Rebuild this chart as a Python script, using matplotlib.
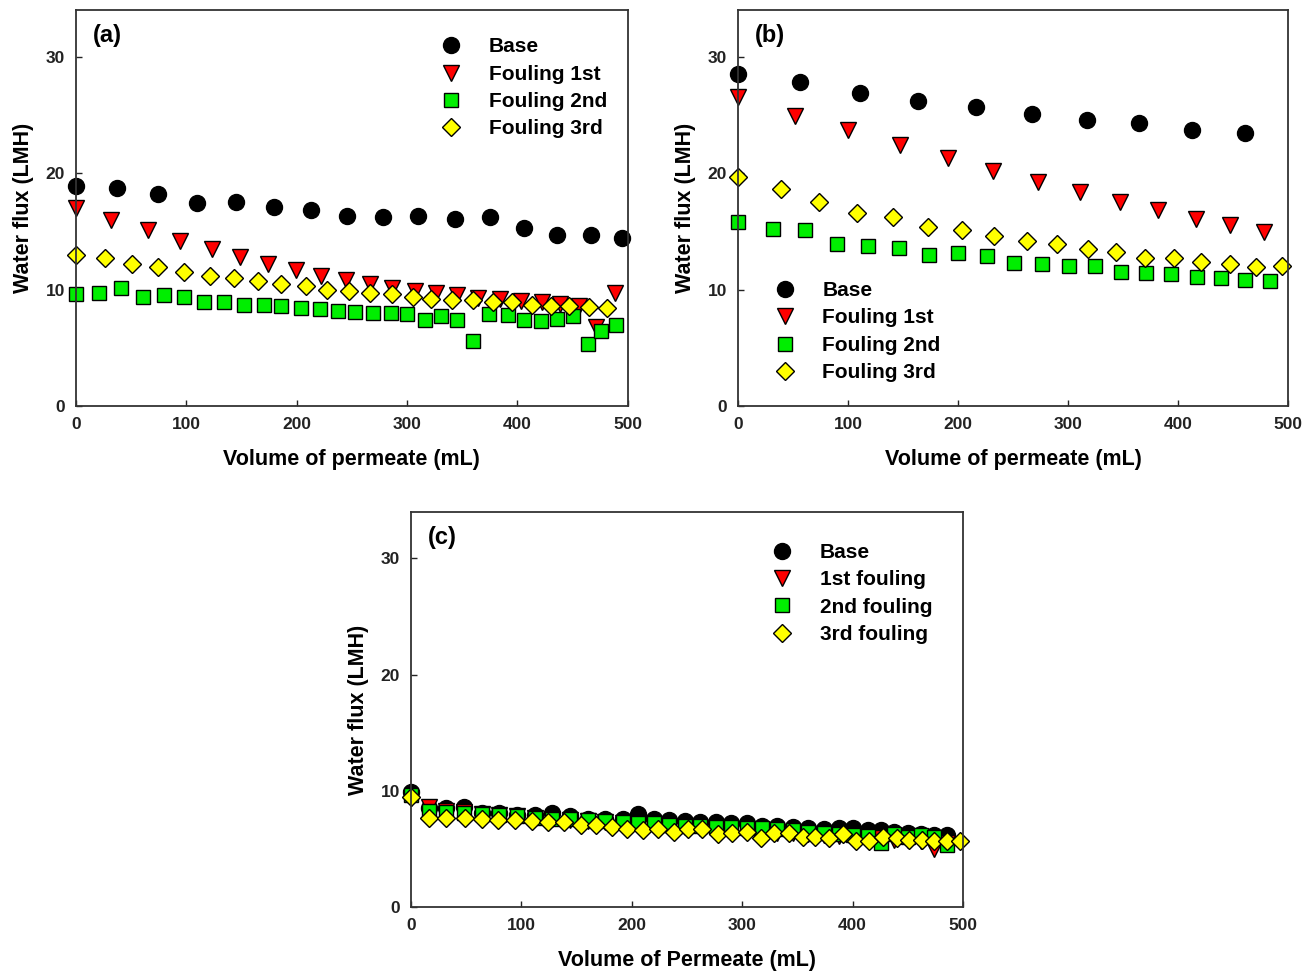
import matplotlib
matplotlib.use('Agg')
import matplotlib.pyplot as plt

plt.rcParams['font.family'] = ['Liberation Sans', 'DejaVu Sans']
plt.rcParams['font.weight'] = 'bold'

# ---- panel (a) ----
a_base_x = [0, 37, 74, 110, 145, 179, 213, 246, 278, 310, 343, 375, 406, 436, 467, 495]
a_base_y = [18.9, 18.7, 18.2, 17.4, 17.5, 17.1, 16.8, 16.3, 16.2, 16.3, 16.1, 16.2, 15.3, 14.7, 14.7, 14.4]
a_f1_x = [0, 32, 65, 94, 123, 149, 174, 199, 222, 245, 266, 286, 307, 326, 345, 364, 384, 403, 422, 439, 456, 471, 488]
a_f1_y = [17.0, 16.0, 15.1, 14.2, 13.5, 12.8, 12.2, 11.7, 11.2, 10.8, 10.5, 10.1, 9.9, 9.7, 9.5, 9.3, 9.2, 9.0, 8.9, 8.8, 8.6, 6.8, 9.7]
a_f2_x = [0, 21, 41, 61, 80, 98, 116, 134, 152, 170, 186, 204, 221, 237, 253, 269, 285, 300, 316, 331, 345, 360, 374, 391, 406, 421, 436, 450, 464, 476, 489]
a_f2_y = [9.6, 9.7, 10.1, 9.4, 9.5, 9.4, 8.9, 8.9, 8.7, 8.7, 8.6, 8.4, 8.3, 8.2, 8.1, 8.0, 8.0, 7.9, 7.4, 7.7, 7.4, 5.6, 7.9, 7.8, 7.4, 7.3, 7.5, 7.7, 5.3, 6.4, 7.0]
a_f3_x = [0, 26, 51, 74, 98, 121, 143, 165, 186, 208, 227, 247, 266, 286, 305, 322, 341, 360, 378, 395, 413, 430, 447, 465, 481]
a_f3_y = [13.0, 12.7, 12.2, 11.9, 11.5, 11.2, 11.0, 10.7, 10.5, 10.3, 10.0, 9.9, 9.7, 9.6, 9.4, 9.2, 9.1, 9.1, 8.9, 8.9, 8.7, 8.6, 8.6, 8.5, 8.4]

# ---- panel (b) ----
b_base_x = [0, 56, 111, 164, 216, 267, 317, 365, 413, 461]
b_base_y = [28.5, 27.8, 26.9, 26.2, 25.7, 25.1, 24.6, 24.3, 23.7, 23.4]
b_f1_x = [0, 52, 100, 147, 191, 232, 273, 311, 347, 382, 416, 447, 478]
b_f1_y = [26.5, 24.9, 23.7, 22.4, 21.3, 20.2, 19.2, 18.4, 17.5, 16.8, 16.1, 15.5, 14.9]
b_f2_x = [0, 32, 61, 90, 118, 146, 174, 200, 226, 251, 276, 301, 325, 348, 371, 394, 417, 439, 461, 484]
b_f2_y = [15.8, 15.2, 15.1, 13.9, 13.7, 13.6, 13.0, 13.1, 12.9, 12.3, 12.2, 12.0, 12.0, 11.5, 11.4, 11.3, 11.1, 11.0, 10.8, 10.7]
b_f3_x = [0, 39, 74, 108, 141, 173, 204, 233, 263, 290, 318, 344, 370, 396, 421, 447, 471, 495]
b_f3_y = [19.7, 18.6, 17.5, 16.6, 16.2, 15.4, 15.1, 14.6, 14.2, 13.9, 13.5, 13.2, 12.7, 12.7, 12.4, 12.2, 11.9, 12.0]

# ---- panel (c) ----
c_x = [0, 16, 32, 48, 64, 80, 96, 112, 128, 144, 160, 176, 192, 206, 220, 234, 248, 262, 276, 290, 304, 318,
       332, 346, 360, 374, 388, 400, 414, 426, 438, 450, 462, 474, 486]
c_base_y = [9.9, 8.5, 8.5, 8.6, 8.1, 8.1, 7.9, 7.9, 8.1, 7.8, 7.6, 7.6, 7.6, 8.0, 7.6, 7.5, 7.4, 7.3, 7.3, 7.2, 7.2, 7.0,
            7.0, 6.9, 6.8, 6.7, 6.8, 6.8, 6.6, 6.6, 6.5, 6.4, 6.3, 6.2, 6.2]
c_f1_y = [9.4, 8.6, 8.3, 8.2, 8.0, 7.9, 7.8, 7.7, 7.6, 7.5, 7.4, 7.3, 7.2, 7.2, 7.1, 7.0, 6.9, 6.8, 6.8, 6.7, 6.6, 6.5,
          6.4, 6.4, 6.3, 6.2, 6.1, 6.0, 6.0, 5.9, 5.8, 5.8, 5.7, 5.0, 5.5]
c_f2_y = [9.6, 8.3, 8.2, 8.1, 8.0, 7.9, 7.8, 7.7, 7.6, 7.6, 7.5, 7.4, 7.3, 7.2, 7.2, 7.1, 7.0, 7.0, 6.9, 6.9, 6.8, 6.8,
          6.7, 6.6, 6.5, 6.4, 6.3, 6.2, 6.1, 5.5, 6.3, 6.0, 6.2, 6.0, 5.3]
c_f3_x = [0, 16, 32, 49, 64, 79, 94, 110, 124, 139, 154, 168, 182, 196, 210, 224, 238, 251, 264, 278, 291, 304,
          317, 329, 342, 355, 366, 379, 391, 403, 415, 428, 440, 451, 463, 474, 486, 497]
c_f3_y = [9.5, 7.7, 7.7, 7.7, 7.6, 7.5, 7.5, 7.4, 7.3, 7.3, 7.1, 7.1, 6.9, 6.7, 6.6, 6.7, 6.5, 6.7, 6.7, 6.3, 6.4, 6.5,
          5.9, 6.4, 6.4, 6.0, 6.0, 5.9, 6.3, 5.7, 5.7, 6.0, 5.9, 5.8, 5.8, 5.7, 5.7, 5.7]

labels_ab = ['Base', 'Fouling 1st', 'Fouling 2nd', 'Fouling 3rd']
labels_c = ['Base', '1st fouling', '2nd fouling', '3rd fouling']

styles = [dict(marker='o', color='black', ms=11.5),
          dict(marker='v', color='#ff0000', ms=11),
          dict(marker='s', color='#00ee00', ms=10),
          dict(marker='D', color='#ffff00', ms=9.5)]

fig = plt.figure(figsize=(13.14, 9.73), dpi=100)
ax_a = fig.add_axes([0.0578, 0.5827, 0.420, 0.407])
ax_b = fig.add_axes([0.5616, 0.5827, 0.4186, 0.407])
ax_c = fig.add_axes([0.3128, 0.0678, 0.420, 0.406])

leg_kw = dict(frameon=False, fontsize=15, handletextpad=1.0, labelspacing=0.4,
              borderpad=0, handlelength=1.6)


def draw(ax, series, labels, tag, xlabel):
    for (x, y), st, lab in zip(series, styles, labels):
        ax.plot(x, y, linestyle='none', marker=st['marker'], markersize=st['ms'],
                markerfacecolor=st['color'], markeredgecolor='black', markeredgewidth=1.0,
                label=lab, clip_on=False)
    ax.set_xlim(0, 500)
    ax.set_ylim(0, 34)
    ax.set_xticks([0, 100, 200, 300, 400, 500])
    ax.set_yticks([0, 10, 20, 30])
    ax.tick_params(direction='in', length=4, width=1, pad=8, labelsize=12.5, colors='#222222')
    for sp in ax.spines.values():
        sp.set_linewidth(1.3)
        sp.set_color('#333333')
    ax.set_xlabel(xlabel, fontsize=15.5, fontweight='bold', labelpad=12)
    ax.set_ylabel('Water flux (LMH)', fontsize=15.5, fontweight='bold', labelpad=8)
    ax.text(0.03, 0.965, tag, transform=ax.transAxes, fontsize=17, fontweight='bold', va='top')


draw(ax_a, [(a_base_x, a_base_y), (a_f1_x, a_f1_y), (a_f2_x, a_f2_y), (a_f3_x, a_f3_y)],
     labels_ab, '(a)', 'Volume of permeate (mL)')
ax_a.legend(loc='upper left', bbox_to_anchor=(0.631, 0.957), **leg_kw)

draw(ax_b, [(b_base_x, b_base_y), (b_f1_x, b_f1_y), (b_f2_x, b_f2_y), (b_f3_x, b_f3_y)],
     labels_ab, '(b)', 'Volume of permeate (mL)')
ax_b.legend(loc='lower left', bbox_to_anchor=(0.036, 0.034), **leg_kw)

draw(ax_c, [(c_x, c_base_y), (c_x, c_f1_y), (c_x, c_f2_y), (c_f3_x, c_f3_y)],
     labels_c, '(c)', 'Volume of Permeate (mL)')
ax_c.legend(loc='upper left', bbox_to_anchor=(0.624, 0.948), **leg_kw)

fig.savefig('out.png', dpi=100)
